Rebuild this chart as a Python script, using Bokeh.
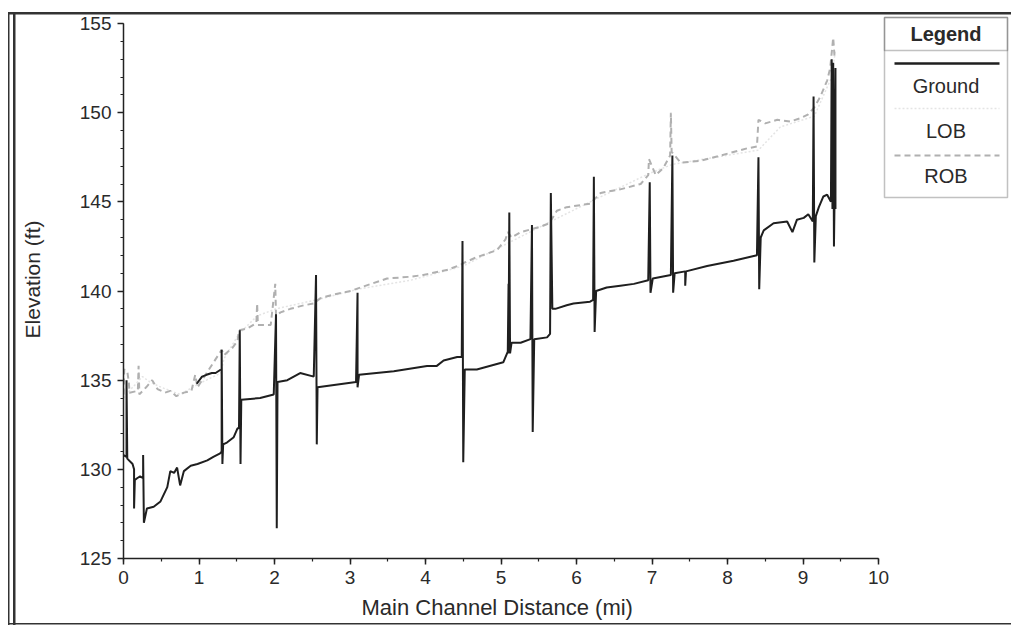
from bokeh.plotting import figure
from bokeh.models import BoxAnnotation, Label, Range1d, SingleIntervalTicker, Title
from bokeh.embed import file_html
from bokeh.resources import INLINE

# ---------------- data ----------------
ground_mi = [0.00, 0.04, 0.04, 0.05, 0.12, 0.14, 0.14, 0.15, 0.18, 0.22, 0.26, 0.26, 0.27,
             0.31, 0.40, 0.49, 0.58, 0.62, 0.67, 0.71, 0.75, 0.80, 0.89, 0.98, 1.11, 1.19,
             1.28, 1.30, 1.30, 1.31, 1.32, 1.37, 1.46, 1.51, 1.53, 1.54, 1.55, 1.56, 1.81,
             1.99, 2.02, 2.03, 2.04, 2.17, 2.34, 2.52, 2.55, 2.56, 2.57, 3.08, 3.10, 3.10,
             3.12, 3.58, 4.02, 4.15, 4.24, 4.42, 4.48, 4.49, 4.50, 4.52, 4.68, 5.03, 5.09,
             5.10, 5.10, 5.11, 5.12, 5.14, 5.26, 5.39, 5.41, 5.42, 5.44, 5.61, 5.65, 5.66,
             5.68, 5.72, 5.87, 5.96, 6.18, 6.22, 6.23, 6.24, 6.26, 6.40, 6.58, 6.76, 6.95,
             6.97, 6.98, 7.01, 7.25, 7.27, 7.28, 7.30, 7.44, 7.44, 7.45, 7.73, 8.08, 8.39,
             8.41, 8.42, 8.44, 8.48, 8.61, 8.79, 8.86, 8.92, 9.01, 9.07, 9.13, 9.14, 9.15,
             9.17, 9.21, 9.27, 9.32, 9.37, 9.38, 9.39, 9.40, 9.41, 9.42, 9.43, 9.43]
ground_ft = [130.8, 130.7, 135.0, 130.6, 130.3, 130.0, 127.8, 129.4, 129.5, 129.6, 129.5, 130.8, 127.0,
             127.8, 127.9, 128.2, 129.0, 129.9, 129.8, 130.1, 129.1, 129.9, 130.2, 130.3, 130.5, 130.7,
             130.9, 131.0, 136.7, 130.3, 131.4, 131.5, 131.8, 132.3, 132.3, 137.8, 130.3, 133.9, 134.0,
             134.2, 138.7, 126.7, 134.9, 135.0, 135.4, 135.2, 140.9, 131.4, 134.6, 134.9, 139.9, 134.6,
             135.3, 135.5, 135.8, 135.8, 136.1, 136.3, 136.3, 142.8, 130.4, 135.6, 135.6, 136.0, 136.6,
             140.4, 136.5, 144.4, 136.5, 137.1, 137.1, 137.3, 143.7, 132.1, 137.3, 137.4, 137.6, 145.5,
             139.0, 139.0, 139.2, 139.3, 139.4, 139.5, 146.4, 137.7, 140.0, 140.2, 140.3, 140.4, 140.6,
             146.1, 139.9, 140.7, 140.9, 147.6, 139.9, 141.0, 141.1, 140.3, 141.1, 141.4, 141.7, 142.0,
             147.5, 140.1, 143.0, 143.4, 143.8, 143.9, 143.3, 144.0, 144.1, 144.3, 143.9, 150.9, 141.6,
             144.2, 144.7, 145.3, 145.4, 145.0, 153.0, 144.6, 152.8, 142.5, 145.8, 152.5, 144.6]

# short dark piece drawn with the ground style between 1.0 and 1.3 mi
ground_upper_mi = [0.97, 1.04, 1.10, 1.17, 1.22, 1.29]
ground_upper_ft = [134.8, 135.2, 135.3, 135.4, 135.4, 135.6]

rob_mi = [0.00, 0.01, 0.05, 0.07, 0.08, 0.19, 0.20, 0.21, 0.30, 0.38, 0.45, 0.55, 0.62, 0.70,
          0.80, 0.90, 0.95, 0.98, 1.30, 1.33, 1.44, 1.51, 1.53, 1.64, 1.76, 1.77, 1.78, 1.95,
          2.01, 2.02, 2.08, 2.21, 2.39, 2.52, 2.61, 2.78, 3.01, 3.14, 3.49, 3.80, 3.97, 4.30,
          4.48, 4.52, 4.68, 4.82, 4.95, 5.06, 5.09, 5.14, 5.26, 5.52, 5.64, 5.74, 5.87, 6.18,
          6.25, 6.32, 6.58, 6.85, 6.95, 6.96, 7.05, 7.15, 7.24, 7.25, 7.26, 7.38, 7.64, 7.91,
          8.26, 8.39, 8.41, 8.50, 8.66, 8.83, 8.97, 9.07, 9.15, 9.23, 9.32, 9.36, 9.40, 9.42]
rob_ft = [134.2, 135.6, 135.5, 134.9, 134.3, 134.4, 135.8, 134.2, 134.6, 135.0, 134.5, 134.3, 134.4, 134.1,
          134.3, 134.4, 135.3, 134.6, 136.7, 136.4, 136.8, 137.2, 137.8, 137.9, 138.2, 139.3, 138.1, 138.1,
          140.4, 138.6, 138.8, 139.0, 139.2, 139.3, 139.6, 139.8, 140.0, 140.2, 140.7, 140.8, 140.9, 141.2,
          141.5, 141.6, 141.9, 142.1, 142.3, 142.9, 143.3, 143.0, 143.3, 143.6, 143.8, 144.5, 144.7, 144.9,
          145.2, 145.5, 145.7, 146.0, 146.5, 147.4, 146.5, 146.9, 147.6, 150.0, 147.8, 147.2, 147.3, 147.6,
          148.0, 148.1, 149.6, 149.4, 149.6, 149.5, 149.7, 149.9, 150.3, 150.9, 151.8, 152.5, 154.2, 153.0]

lob_mi = [0.00, 0.10, 0.25, 0.35, 0.50, 0.75, 1.00, 1.29, 1.33, 1.53, 1.77, 2.02, 2.55, 3.10,
          3.80, 4.50, 5.10, 5.66, 6.23, 6.97, 7.27, 8.41, 8.70, 9.15, 9.38, 9.43]
lob_ft = [134.0, 134.5, 135.2, 134.9, 134.6, 134.2, 134.8, 135.4, 136.2, 137.6, 138.6, 139.0, 139.5, 140.1,
          140.6, 141.4, 142.7, 143.9, 145.1, 146.6, 147.1, 147.9, 149.2, 149.8, 152.0, 153.5]

legend_labels = ["Ground", "LOB", "ROB"]
x_title = "Main Channel Distance (mi)"
y_title = "Elevation (ft)"

GROUND_COLOR = "#1f1f1f"
ROB_COLOR = "#b0b0b0"
LOB_COLOR = "#e4e4e4"
FRAME = "#333333"
TEXT = "#2a2a2a"
FONT = "Liberation Sans"

# ---------------- layout (pixels) ----------------
W, H = 1013, 630
X0_PX, X10_PX = 123, 878      # where 0 mi and 10 mi fall
Y125_PX, Y155_PX = 558, 23    # where 125 ft and 155 ft fall

def px2x(px):
    return (px - X0_PX) / (X10_PX - X0_PX) * 10.0

def py2y(py):
    return 125.0 + (Y125_PX - py) / (Y125_PX - Y155_PX) * 30.0

# frame extends to the right/top edges so the legend can sit inside it
p = figure(width=W, height=H, output_backend="svg", toolbar_location=None,
           x_range=Range1d(0, px2x(W)), y_range=Range1d(125, py2y(0)),
           min_border_left=X0_PX, min_border_right=0, min_border_top=0,
           min_border_bottom=H - Y125_PX)
p.outline_line_color = None
p.grid.visible = False
p.background_fill_color = None
p.border_fill_color = None

# outer scanned-page frame (CSS lines behind the transparent canvas)
frame_lines = [  # x, y, w, h
    (8, 12, 1003, 2.5),
    (8, 12, 1.5, 613),
    (12.5, 12, 2.5, 613),
    (8, 623, 1003, 1.5),
]
p.styles = {
    "background-color": "white",
    "background-image": ", ".join([f"linear-gradient({FRAME},{FRAME})"] * len(frame_lines)),
    "background-size": ", ".join(f"{w}px {h}px" for _, _, w, h in frame_lines),
    "background-position": ", ".join(f"{x}px {y}px" for x, y, _, _ in frame_lines),
    "background-repeat": "no-repeat",
}

p.line(lob_mi, lob_ft, line_color=LOB_COLOR, line_width=1.5, line_dash="2 2")
p.line(rob_mi, rob_ft, line_color=ROB_COLOR, line_width=2, line_dash="6 4")
p.line(ground_mi, ground_ft, line_color=GROUND_COLOR, line_width=2)
p.line(ground_upper_mi, ground_upper_ft, line_color=GROUND_COLOR, line_width=2)

p.xaxis.ticker = SingleIntervalTicker(interval=1, num_minor_ticks=2)
p.yaxis.ticker = SingleIntervalTicker(interval=5, num_minor_ticks=5)
p.xaxis.bounds = (0, 10)
p.yaxis.bounds = (125, 155)
for ax in (p.xaxis, p.yaxis):
    ax.axis_line_color = "#222222"
    ax.axis_line_width = 1.5
    ax.major_tick_line_color = "#222222"
    ax.major_tick_line_width = 1.5
    ax.minor_tick_line_color = "#222222"
    ax.minor_tick_line_width = 1.2
    ax.major_tick_in = 0
    ax.major_tick_out = 6
    ax.minor_tick_in = 0
    ax.minor_tick_out = 3
    ax.major_label_text_font = FONT
    ax.major_label_text_font_size = "19px"
    ax.major_label_text_color = TEXT
    ax.axis_label_text_font = FONT
    ax.axis_label_text_font_size = "21px"
    ax.axis_label_text_font_style = "normal"
    ax.axis_label_text_color = TEXT
p.yaxis.axis_label = y_title
p.xaxis.major_label_standoff = 6
p.yaxis.major_label_standoff = 6
p.yaxis.axis_label_standoff = 33

# x-axis title: the frame runs on under the legend, so place the title
# under the 0-10 mi span of the axis (a Title below, left-aligned with offset)
p.add_layout(Title(text=x_title, align="left", offset=361 - X0_PX, standoff=12,
                   text_font=FONT, text_font_size="22px", text_font_style="normal",
                   text_color=TEXT), "below")

# ---------------- legend (inside the frame) ----------------
def box(l, t, r, b, **kw):
    a = BoxAnnotation(left=px2x(l), right=px2x(r), top=py2y(t), bottom=py2y(b), **kw)
    p.add_layout(a)
    return a

LX0, LX1 = 884, 1007
box(LX0, 17, LX1, 197, fill_color="white", fill_alpha=1, line_color=FRAME, line_width=1.5,
    level="underlay")
box(LX0, 17, LX1, 50, fill_color=None, fill_alpha=0, line_color=FRAME, line_width=1.5)

sample_y = [63, 108, 155]
sample_color = [GROUND_COLOR, LOB_COLOR, ROB_COLOR]
sample_dash = ["solid", "2 2", "6 4"]
sample_w = [2.5, 1.5, 2]
for yy, c, d, w in zip(sample_y, sample_color, sample_dash, sample_w):
    p.segment(x0=[px2x(894)], y0=[py2y(yy)], x1=[px2x(999)], y1=[py2y(yy)],
              line_color=c, line_dash=d, line_width=w)

cx = (LX0 + LX1) / 2
for txt, yy, style in [("Legend", 33, "bold")] + [(t, y, "normal") for t, y in zip(legend_labels, [85, 130, 175])]:
    p.add_layout(Label(x=px2x(cx), y=py2y(yy), text=txt,
                       text_align="center", text_baseline="middle",
                       text_font=FONT, text_font_size="20px", text_font_style=style,
                       text_color=TEXT))

open("out.html", "w").write(file_html(p, INLINE))
